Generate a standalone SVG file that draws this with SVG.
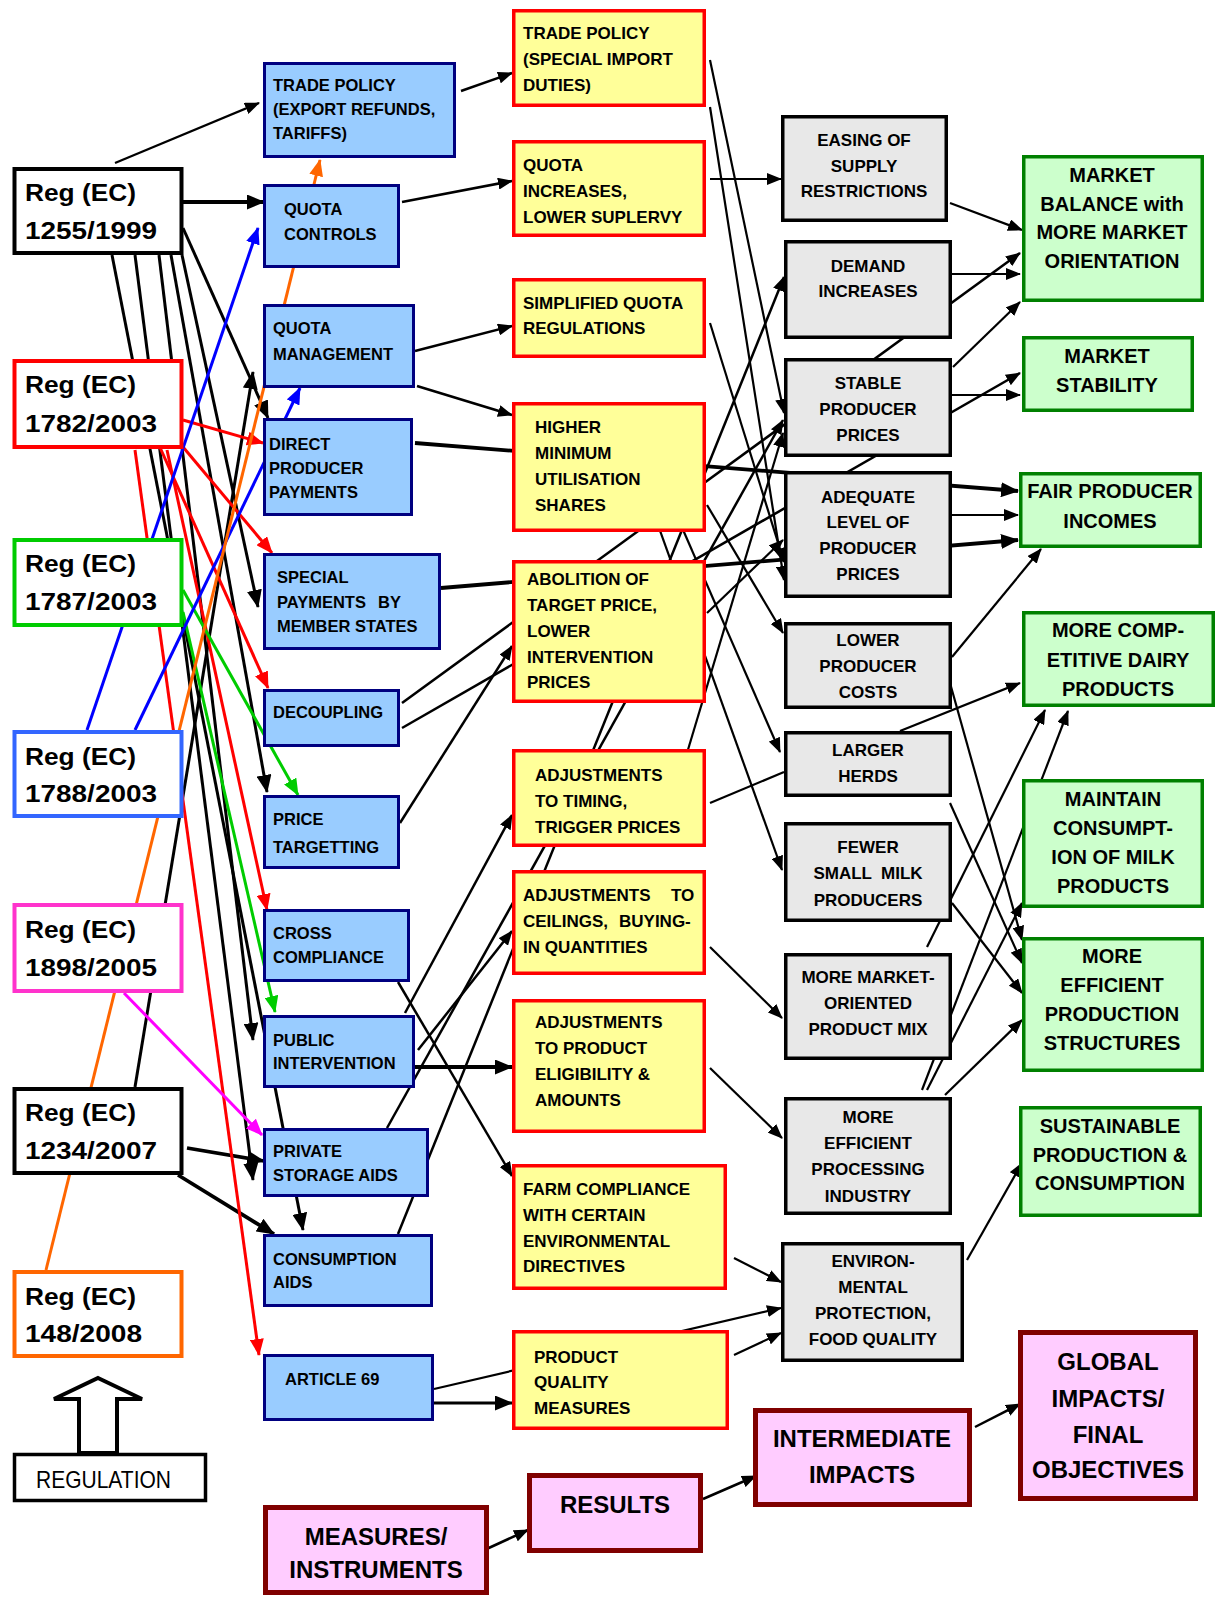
<svg xmlns="http://www.w3.org/2000/svg" width="1216" height="1597" viewBox="0 0 1216 1597">
<style>
  text { font-family: 'Liberation Sans', Arial, sans-serif; font-weight: bold; fill: #000; }
  .rg { font-size: 24px; }
  .bt { font-size: 16.5px; }
  .yt { font-size: 17px; }
  .gt { font-size: 17px; text-anchor: middle; }
  .nt { font-size: 20px; text-anchor: middle; }
  .pt { font-size: 24px; text-anchor: middle; }
  .reg { fill: #fff; stroke-width: 4; }
  .blue { fill: #99ccff; stroke: #000080; stroke-width: 3; }
  .yel { fill: #ffff99; stroke: #ff0000; stroke-width: 3.5; }
  .grey { fill: #e8e8e8; stroke: #000; stroke-width: 3.5; }
  .grn { fill: #ccffcc; stroke: #008000; stroke-width: 3.5; }
  .pink { fill: #ffccff; stroke: #800000; stroke-width: 5; }
  #connectors line { fill: none; stroke: #000; stroke-width: 2.2; }
  #connectors .k3 { stroke-width: 3; }
  #connectors .k4 { stroke-width: 3.8; }
  #connectors .k25 { stroke-width: 2.5; }
  #connectors .red { stroke: #ff0000; stroke-width: 3; }
  #connectors .green { stroke: #00cc00; stroke-width: 3; }
  #connectors .blu { stroke: #0000ff; stroke-width: 3; }
  #connectors .org { stroke: #ff6600; stroke-width: 3; }
  #connectors .mag { stroke: #ff00ff; stroke-width: 3; }
</style>
<defs>
  <marker id="ak" viewBox="0 0 15 12" refX="14" refY="6" markerWidth="15" markerHeight="12" markerUnits="userSpaceOnUse" orient="auto"><path d="M0,0L15,6L0,12z" fill="#000"/></marker>
  <marker id="akL" viewBox="0 0 18 15" refX="17" refY="7.5" markerWidth="18" markerHeight="15" markerUnits="userSpaceOnUse" orient="auto"><path d="M0,0L18,7.5L0,15z" fill="#000"/></marker>
  <marker id="ar" viewBox="0 0 17 14" refX="16" refY="7" markerWidth="17" markerHeight="14" markerUnits="userSpaceOnUse" orient="auto"><path d="M0,0L17,7L0,14z" fill="#ff0000"/></marker>
  <marker id="ag" viewBox="0 0 17 14" refX="16" refY="7" markerWidth="17" markerHeight="14" markerUnits="userSpaceOnUse" orient="auto"><path d="M0,0L17,7L0,14z" fill="#00cc00"/></marker>
  <marker id="ab" viewBox="0 0 17 14" refX="16" refY="7" markerWidth="17" markerHeight="14" markerUnits="userSpaceOnUse" orient="auto"><path d="M0,0L17,7L0,14z" fill="#0000ff"/></marker>
  <marker id="ao" viewBox="0 0 17 14" refX="16" refY="7" markerWidth="17" markerHeight="14" markerUnits="userSpaceOnUse" orient="auto"><path d="M0,0L17,7L0,14z" fill="#ff6600"/></marker>
  <marker id="am" viewBox="0 0 17 14" refX="16" refY="7" markerWidth="17" markerHeight="14" markerUnits="userSpaceOnUse" orient="auto"><path d="M0,0L17,7L0,14z" fill="#ff00ff"/></marker>
</defs>

<rect width="1216" height="1597" fill="#fff"/>

<g id="connectors">
  <!-- regulations to measures -->
  <line x1="115" y1="163" x2="259" y2="103" marker-end="url(#ak)"/>
  <line class="k4" x1="183" y1="202" x2="264" y2="202" marker-end="url(#akL)"/>
  <line class="k3" x1="183" y1="228" x2="268" y2="418" marker-end="url(#akL)"/>
  <line class="k3" x1="182" y1="255" x2="258" y2="607" marker-end="url(#akL)"/>
  <line class="k3" x1="171" y1="255" x2="267" y2="792" marker-end="url(#akL)"/>
  <line class="k3" x1="159" y1="255" x2="253" y2="1040" marker-end="url(#akL)"/>
  <line class="k3" x1="135" y1="255" x2="253" y2="1180" marker-end="url(#akL)"/>
  <line class="k3" x1="112" y1="255" x2="303" y2="1230" marker-end="url(#akL)"/>
  <line class="k3" x1="135" y1="1087" x2="253" y2="372" marker-end="url(#akL)"/>
  <line class="k4" x1="187" y1="1148" x2="264" y2="1161" marker-end="url(#akL)"/>
  <line class="k4" x1="178" y1="1175" x2="274" y2="1234" marker-end="url(#akL)"/>
  <line class="red" x1="183" y1="420" x2="263" y2="443" marker-end="url(#ar)"/>
  <line class="red" x1="183" y1="447" x2="272" y2="553" marker-end="url(#ar)"/>
  <line class="red" x1="158" y1="443" x2="268" y2="688" marker-end="url(#ar)"/>
  <line class="red" x1="167" y1="450" x2="267" y2="910" marker-end="url(#ar)"/>
  <line class="red" x1="135" y1="450" x2="259" y2="1355" marker-end="url(#ar)"/>
  <line class="green" x1="183" y1="590" x2="298" y2="795" marker-end="url(#ag)"/>
  <line class="green" x1="183" y1="612" x2="275" y2="1012" marker-end="url(#ag)"/>
  <line class="blu" x1="87" y1="730" x2="258" y2="228" marker-end="url(#ab)"/>
  <line class="blu" x1="135" y1="730" x2="300" y2="388" marker-end="url(#ab)"/>
  <line class="mag" x1="124" y1="993" x2="262" y2="1135" marker-end="url(#am)"/>
  <line class="org" x1="46" y1="1270" x2="320" y2="160" marker-end="url(#ao)"/>

  <!-- measures to results -->
  <line class="k25" x1="461" y1="91" x2="512" y2="73" marker-end="url(#ak)"/>
  <line class="k25" x1="402" y1="202" x2="512" y2="181" marker-end="url(#ak)"/>
  <line class="k25" x1="415" y1="351" x2="512" y2="326" marker-end="url(#ak)"/>
  <line class="k25" x1="417" y1="386" x2="512" y2="415" marker-end="url(#ak)"/>
  <line class="k4" x1="415" y1="443" x2="1018" y2="491" marker-end="url(#akL)"/>
  <line class="k4" x1="441" y1="588" x2="1018" y2="540" marker-end="url(#akL)"/>
  <line class="k25" x1="402" y1="703" x2="1020" y2="253" marker-end="url(#ak)"/>
  <line class="k25" x1="402" y1="728" x2="1020" y2="373" marker-end="url(#ak)"/>
  <line class="k25" x1="400" y1="823" x2="512" y2="646" marker-end="url(#ak)"/>
  <line class="k25" x1="405" y1="1013" x2="512" y2="815" marker-end="url(#ak)"/>
  <line class="k25" x1="418" y1="1050" x2="512" y2="931" marker-end="url(#ak)"/>
  <line class="k4" x1="413" y1="1067" x2="512" y2="1067" marker-end="url(#akL)"/>
  <line class="k25" x1="387" y1="1128" x2="783" y2="420" marker-end="url(#ak)"/>
  <line class="k25" x1="398" y1="1234" x2="784" y2="277" marker-end="url(#ak)"/>
  <line class="k25" x1="398" y1="982" x2="512" y2="1176" marker-end="url(#ak)"/>
  <line x1="434" y1="1389" x2="781" y2="1308" marker-end="url(#ak)"/>
  <line class="k3" x1="434" y1="1403" x2="512" y2="1403" marker-end="url(#akL)"/>

  <!-- results to intermediate impacts -->
  <line x1="710" y1="179" x2="781" y2="179" marker-end="url(#ak)"/>
  <line x1="710" y1="60" x2="784" y2="413" marker-end="url(#ak)"/>
  <line x1="710" y1="107" x2="784" y2="580" marker-end="url(#ak)"/>
  <line x1="710" y1="323" x2="784" y2="562" marker-end="url(#ak)"/>
  <line x1="707" y1="505" x2="783" y2="633" marker-end="url(#ak)"/>
  <line x1="670" y1="500" x2="780" y2="752" marker-end="url(#ak)"/>
  <line x1="649" y1="500" x2="782" y2="870" marker-end="url(#ak)"/>
  <line x1="687" y1="753" x2="783" y2="433" marker-end="url(#ak)"/>
  <line x1="710" y1="803" x2="784" y2="772"/>
  <line x1="707" y1="613" x2="783" y2="540" marker-end="url(#ak)"/>
  <line x1="710" y1="947" x2="782" y2="1018" marker-end="url(#ak)"/>
  <line x1="710" y1="1068" x2="782" y2="1138" marker-end="url(#ak)"/>
  <line x1="734" y1="1258" x2="781" y2="1282" marker-end="url(#ak)"/>
  <line x1="734" y1="1355" x2="781" y2="1333" marker-end="url(#ak)"/>

  <!-- intermediate impacts to final objectives -->
  <line x1="950" y1="203" x2="1022" y2="230" marker-end="url(#ak)"/>
  <line x1="952" y1="274" x2="1020" y2="274" marker-end="url(#ak)"/>
  <line x1="953" y1="367" x2="1020" y2="302" marker-end="url(#ak)"/>
  <line x1="952" y1="395" x2="1020" y2="395" marker-end="url(#ak)"/>
  <line x1="952" y1="515" x2="1018" y2="515" marker-end="url(#ak)"/>
  <line x1="952" y1="657" x2="1041" y2="549" marker-end="url(#ak)"/>
  <line x1="950" y1="683" x2="1022" y2="940" marker-end="url(#ak)"/>
  <line x1="900" y1="731" x2="1020" y2="683" marker-end="url(#ak)"/>
  <line x1="950" y1="803" x2="1022" y2="963" marker-end="url(#ak)"/>
  <line x1="952" y1="903" x2="1022" y2="993" marker-end="url(#ak)"/>
  <line x1="927" y1="947" x2="1045" y2="710" marker-end="url(#ak)"/>
  <line x1="922" y1="1090" x2="1068" y2="711" marker-end="url(#ak)"/>
  <line x1="927" y1="1090" x2="1022" y2="903" marker-end="url(#ak)"/>
  <line x1="945" y1="1095" x2="1022" y2="1020" marker-end="url(#ak)"/>
  <line x1="967" y1="1260" x2="1022" y2="1163" marker-end="url(#ak)"/>

  <!-- legend chain -->
  <line class="k25" x1="480" y1="1552" x2="528" y2="1530" marker-end="url(#ak)"/>
  <line class="k25" x1="703" y1="1499" x2="756" y2="1476" marker-end="url(#ak)"/>
  <line class="k25" x1="975" y1="1427" x2="1020" y2="1404" marker-end="url(#ak)"/>
</g>

<!-- regulations -->
<g id="reg-1255-1999"><rect class="reg" x="14.5" y="169" width="167" height="84" stroke="#000"/>
  <text class="rg" x="25" y="201" textLength="111" lengthAdjust="spacingAndGlyphs">Reg (EC)</text>
  <text class="rg" x="25" y="239" textLength="132" lengthAdjust="spacingAndGlyphs">1255/1999</text></g>
<g id="reg-1782-2003"><rect class="reg" x="14.5" y="361" width="167" height="86" stroke="#ff0000"/>
  <text class="rg" x="25" y="393" textLength="111" lengthAdjust="spacingAndGlyphs">Reg (EC)</text>
  <text class="rg" x="25" y="432" textLength="132" lengthAdjust="spacingAndGlyphs">1782/2003</text></g>
<g id="reg-1787-2003"><rect class="reg" x="14.5" y="540" width="167" height="85" stroke="#00cc00"/>
  <text class="rg" x="25" y="572" textLength="111" lengthAdjust="spacingAndGlyphs">Reg (EC)</text>
  <text class="rg" x="25" y="610" textLength="132" lengthAdjust="spacingAndGlyphs">1787/2003</text></g>
<g id="reg-1788-2003"><rect class="reg" x="14.5" y="732" width="167" height="84" stroke="#3366ff"/>
  <text class="rg" x="25" y="765" textLength="111" lengthAdjust="spacingAndGlyphs">Reg (EC)</text>
  <text class="rg" x="25" y="802" textLength="132" lengthAdjust="spacingAndGlyphs">1788/2003</text></g>
<g id="reg-1898-2005"><rect class="reg" x="14.5" y="905" width="167" height="86" stroke="#ff33cc"/>
  <text class="rg" x="25" y="938" textLength="111" lengthAdjust="spacingAndGlyphs">Reg (EC)</text>
  <text class="rg" x="25" y="976" textLength="132" lengthAdjust="spacingAndGlyphs">1898/2005</text></g>
<g id="reg-1234-2007"><rect class="reg" x="14.5" y="1089" width="167" height="84" stroke="#000"/>
  <text class="rg" x="25" y="1121" textLength="111" lengthAdjust="spacingAndGlyphs">Reg (EC)</text>
  <text class="rg" x="25" y="1159" textLength="132" lengthAdjust="spacingAndGlyphs">1234/2007</text></g>
<g id="reg-148-2008"><rect class="reg" x="14.5" y="1272" width="167" height="84" stroke="#ff6600"/>
  <text class="rg" x="25" y="1305" textLength="111" lengthAdjust="spacingAndGlyphs">Reg (EC)</text>
  <text class="rg" x="25" y="1342" textLength="117" lengthAdjust="spacingAndGlyphs">148/2008</text></g>

<!-- legend: regulation -->
<g id="legend-regulation">
  <polygon points="98,1378 142,1399 117,1399 117,1453 79,1453 79,1399 54,1399" fill="#fff" stroke="#000" stroke-width="4" stroke-linejoin="miter"/>
  <rect x="14.5" y="1454.5" width="191" height="46" fill="#fff" stroke="#000" stroke-width="3.5"/>
  <text x="36" y="1488" style="font-weight:normal;font-size:24px" textLength="135" lengthAdjust="spacingAndGlyphs">REGULATION</text>
</g>

<!-- measures / instruments -->
<g id="m-trade-export"><rect class="blue" x="264.5" y="63.5" width="190" height="93" stroke="#333399"/>
  <text class="bt" x="273" y="91">TRADE POLICY</text><text class="bt" x="273" y="115">(EXPORT REFUNDS,</text><text class="bt" x="273" y="139">TARIFFS)</text></g>
<g id="m-quota-controls"><rect class="blue" x="264.5" y="185.5" width="134" height="81"/>
  <text class="bt" x="284" y="215">QUOTA</text><text class="bt" x="284" y="240">CONTROLS</text></g>
<g id="m-quota-management"><rect class="blue" x="264.5" y="305.5" width="149" height="81"/>
  <text class="bt" x="273" y="334">QUOTA</text><text class="bt" x="273" y="360">MANAGEMENT</text></g>
<g id="m-direct-payments"><rect class="blue" x="264.5" y="419.5" width="147" height="95"/>
  <text class="bt" x="269" y="450">DIRECT</text><text class="bt" x="269" y="474">PRODUCER</text><text class="bt" x="269" y="498">PAYMENTS</text></g>
<g id="m-special-payments"><rect class="blue" x="264.5" y="554.5" width="175" height="94"/>
  <text class="bt" x="277" y="583">SPECIAL</text><text class="bt" x="277" y="608">PAYMENTS</text><text class="bt" x="378" y="608">BY</text><text class="bt" x="277" y="632">MEMBER STATES</text></g>
<g id="m-decoupling"><rect class="blue" x="264.5" y="690.5" width="134" height="55"/>
  <text class="bt" x="273" y="718">DECOUPLING</text></g>
<g id="m-price-targetting"><rect class="blue" x="264.5" y="796.5" width="134" height="71"/>
  <text class="bt" x="273" y="825">PRICE</text><text class="bt" x="273" y="853">TARGETTING</text></g>
<g id="m-cross-compliance"><rect class="blue" x="264.5" y="910.5" width="144" height="70"/>
  <text class="bt" x="273" y="939">CROSS</text><text class="bt" x="273" y="963">COMPLIANCE</text></g>
<g id="m-public-intervention"><rect class="blue" x="264.5" y="1016.5" width="149" height="70"/>
  <text class="bt" x="273" y="1046">PUBLIC</text><text class="bt" x="273" y="1069">INTERVENTION</text></g>
<g id="m-private-storage"><rect class="blue" x="264.5" y="1129.5" width="163" height="66"/>
  <text class="bt" x="273" y="1157">PRIVATE</text><text class="bt" x="273" y="1181">STORAGE AIDS</text></g>
<g id="m-consumption-aids"><rect class="blue" x="264.5" y="1235.5" width="167" height="70"/>
  <text class="bt" x="273" y="1265">CONSUMPTION</text><text class="bt" x="273" y="1288">AIDS</text></g>
<g id="m-article-69"><rect class="blue" x="264.5" y="1355.5" width="168" height="64"/>
  <text class="bt" x="285" y="1385">ARTICLE 69</text></g>

<!-- results -->
<g id="r-trade-import"><rect class="yel" x="513.75" y="10.75" width="190.5" height="94.5"/>
  <text class="yt" x="523" y="39">TRADE POLICY</text><text class="yt" x="523" y="65">(SPECIAL IMPORT</text><text class="yt" x="523" y="91">DUTIES)</text></g>
<g id="r-quota-increases"><rect class="yel" x="513.75" y="141.75" width="190.5" height="93.5"/>
  <text class="yt" x="523" y="171">QUOTA</text><text class="yt" x="523" y="197">INCREASES,</text><text class="yt" x="523" y="223">LOWER SUPLERVY</text></g>
<g id="r-simplified-quota"><rect class="yel" x="513.75" y="279.75" width="190.5" height="76.5"/>
  <text class="yt" x="523" y="309">SIMPLIFIED QUOTA</text><text class="yt" x="523" y="334">REGULATIONS</text></g>
<g id="r-higher-minimum"><rect class="yel" x="513.75" y="403.75" width="190.5" height="126.5"/>
  <text class="yt" x="535" y="433">HIGHER</text><text class="yt" x="535" y="459">MINIMUM</text><text class="yt" x="535" y="485">UTILISATION</text><text class="yt" x="535" y="511">SHARES</text></g>
<g id="r-abolition"><rect class="yel" x="513.75" y="561.75" width="190.5" height="139.5"/>
  <text class="yt" x="527" y="585">ABOLITION OF</text><text class="yt" x="527" y="611">TARGET PRICE,</text><text class="yt" x="527" y="637">LOWER</text><text class="yt" x="527" y="663">INTERVENTION</text><text class="yt" x="527" y="688">PRICES</text></g>
<g id="r-timing"><rect class="yel" x="513.75" y="750.75" width="190.5" height="94.5"/>
  <text class="yt" x="535" y="781">ADJUSTMENTS</text><text class="yt" x="535" y="807">TO TIMING,</text><text class="yt" x="535" y="833">TRIGGER PRICES</text></g>
<g id="r-ceilings"><rect class="yel" x="513.75" y="871.75" width="190.5" height="101.5"/>
  <text class="yt" x="523" y="901">ADJUSTMENTS</text><text class="yt" x="671" y="901">TO</text>
  <text class="yt" x="523" y="927">CEILINGS,</text><text class="yt" x="619" y="927">BUYING-</text>
  <text class="yt" x="523" y="953">IN QUANTITIES</text></g>
<g id="r-eligibility"><rect class="yel" x="513.75" y="1000.75" width="190.5" height="130.5"/>
  <text class="yt" x="535" y="1028">ADJUSTMENTS</text><text class="yt" x="535" y="1054">TO PRODUCT</text><text class="yt" x="535" y="1080">ELIGIBILITY &amp;</text><text class="yt" x="535" y="1106">AMOUNTS</text></g>
<g id="r-farm-compliance"><rect class="yel" x="513.75" y="1165.75" width="211.5" height="122.5"/>
  <text class="yt" x="523" y="1195">FARM COMPLIANCE</text><text class="yt" x="523" y="1221">WITH CERTAIN</text><text class="yt" x="523" y="1247">ENVIRONMENTAL</text><text class="yt" x="523" y="1272">DIRECTIVES</text></g>
<g id="r-product-quality"><rect class="yel" x="513.75" y="1331.75" width="213.5" height="96.5"/>
  <text class="yt" x="534" y="1363">PRODUCT</text><text class="yt" x="534" y="1388">QUALITY</text><text class="yt" x="534" y="1414">MEASURES</text></g>

<!-- intermediate impacts -->
<g id="i-easing"><rect class="grey" x="782.75" y="116.75" width="163.5" height="103.5"/>
  <text class="gt" x="864" y="146">EASING OF</text><text class="gt" x="864" y="172">SUPPLY</text><text class="gt" x="864" y="197">RESTRICTIONS</text></g>
<g id="i-demand"><rect class="grey" x="785.75" y="241.75" width="164.5" height="95.5"/>
  <text class="gt" x="868" y="272">DEMAND</text><text class="gt" x="868" y="297">INCREASES</text></g>
<g id="i-stable-prices"><rect class="grey" x="785.75" y="359.75" width="164.5" height="95.5"/>
  <text class="gt" x="868" y="389">STABLE</text><text class="gt" x="868" y="415">PRODUCER</text><text class="gt" x="868" y="441">PRICES</text></g>
<g id="i-adequate-prices"><rect class="grey" x="785.75" y="472.75" width="164.5" height="123.5"/>
  <text class="gt" x="868" y="503">ADEQUATE</text><text class="gt" x="868" y="528">LEVEL OF</text><text class="gt" x="868" y="554">PRODUCER</text><text class="gt" x="868" y="580">PRICES</text></g>
<g id="i-lower-costs"><rect class="grey" x="785.75" y="623.75" width="164.5" height="83.5"/>
  <text class="gt" x="868" y="646">LOWER</text><text class="gt" x="868" y="672">PRODUCER</text><text class="gt" x="868" y="698">COSTS</text></g>
<g id="i-larger-herds"><rect class="grey" x="785.75" y="732.75" width="164.5" height="62.5"/>
  <text class="gt" x="868" y="756">LARGER</text><text class="gt" x="868" y="782">HERDS</text></g>
<g id="i-fewer-producers"><rect class="grey" x="785.75" y="823.75" width="164.5" height="96.5"/>
  <text class="gt" x="868" y="853">FEWER</text><text class="gt" x="868" y="879" xml:space="preserve">SMALL  MILK</text><text class="gt" x="868" y="906">PRODUCERS</text></g>
<g id="i-product-mix"><rect class="grey" x="785.75" y="954.75" width="164.5" height="103.5"/>
  <text class="gt" x="868" y="983">MORE MARKET-</text><text class="gt" x="868" y="1009">ORIENTED</text><text class="gt" x="868" y="1035">PRODUCT MIX</text></g>
<g id="i-processing"><rect class="grey" x="785.75" y="1098.75" width="164.5" height="114.5"/>
  <text class="gt" x="868" y="1123">MORE</text><text class="gt" x="868" y="1149">EFFICIENT</text><text class="gt" x="868" y="1175">PROCESSING</text><text class="gt" x="868" y="1202">INDUSTRY</text></g>
<g id="i-environment"><rect class="grey" x="782.75" y="1243.75" width="179.5" height="116.5"/>
  <text class="gt" x="873" y="1267">ENVIRON-</text><text class="gt" x="873" y="1293">MENTAL</text><text class="gt" x="873" y="1319">PROTECTION,</text><text class="gt" x="873" y="1345">FOOD QUALITY</text></g>

<!-- global impacts / final objectives -->
<g id="o-market-balance"><rect class="grn" x="1023.75" y="156.75" width="178.5" height="143.5"/>
  <text class="nt" x="1112" y="182">MARKET</text><text class="nt" x="1112" y="211">BALANCE with</text><text class="nt" x="1112" y="239">MORE MARKET</text><text class="nt" x="1112" y="268">ORIENTATION</text></g>
<g id="o-market-stability"><rect class="grn" x="1023.75" y="337.75" width="168.5" height="72.5"/>
  <text class="nt" x="1107" y="363">MARKET</text><text class="nt" x="1107" y="392">STABILITY</text></g>
<g id="o-fair-incomes"><rect class="grn" x="1020.75" y="473.75" width="179.5" height="72.5"/>
  <text class="nt" x="1110" y="498">FAIR PRODUCER</text><text class="nt" x="1110" y="528">INCOMES</text></g>
<g id="o-competitive"><rect class="grn" x="1023.75" y="612.75" width="189.5" height="92.5"/>
  <text class="nt" x="1118" y="637">MORE COMP-</text><text class="nt" x="1118" y="667">ETITIVE DAIRY</text><text class="nt" x="1118" y="696">PRODUCTS</text></g>
<g id="o-consumption"><rect class="grn" x="1023.75" y="780.75" width="178.5" height="125.5"/>
  <text class="nt" x="1113" y="806">MAINTAIN</text><text class="nt" x="1113" y="835">CONSUMPT-</text><text class="nt" x="1113" y="864">ION OF MILK</text><text class="nt" x="1113" y="893">PRODUCTS</text></g>
<g id="o-production-structures"><rect class="grn" x="1023.75" y="938.75" width="178.5" height="131.5"/>
  <text class="nt" x="1112" y="963">MORE</text><text class="nt" x="1112" y="992">EFFICIENT</text><text class="nt" x="1112" y="1021">PRODUCTION</text><text class="nt" x="1112" y="1050">STRUCTURES</text></g>
<g id="o-sustainable"><rect class="grn" x="1020.75" y="1107.75" width="179.5" height="107.5"/>
  <text class="nt" x="1110" y="1133">SUSTAINABLE</text><text class="nt" x="1110" y="1162">PRODUCTION &amp;</text><text class="nt" x="1110" y="1190">CONSUMPTION</text></g>

<!-- legend chain -->
<g id="legend-measures"><rect class="pink" x="265.5" y="1507.5" width="221" height="85"/>
  <text class="pt" x="376" y="1545">MEASURES/</text><text class="pt" x="376" y="1578">INSTRUMENTS</text></g>
<g id="legend-results"><rect class="pink" x="529.5" y="1475.5" width="171" height="75"/>
  <text class="pt" x="615" y="1513">RESULTS</text></g>
<g id="legend-intermediate"><rect class="pink" x="755.5" y="1410.5" width="214" height="94"/>
  <text class="pt" x="862" y="1447">INTERMEDIATE</text><text class="pt" x="862" y="1483">IMPACTS</text></g>
<g id="legend-global"><rect class="pink" x="1020.5" y="1332.5" width="175" height="166"/>
  <text class="pt" x="1108" y="1370">GLOBAL</text><text class="pt" x="1108" y="1407">IMPACTS/</text><text class="pt" x="1108" y="1443">FINAL</text><text class="pt" x="1108" y="1478">OBJECTIVES</text></g>
</svg>
